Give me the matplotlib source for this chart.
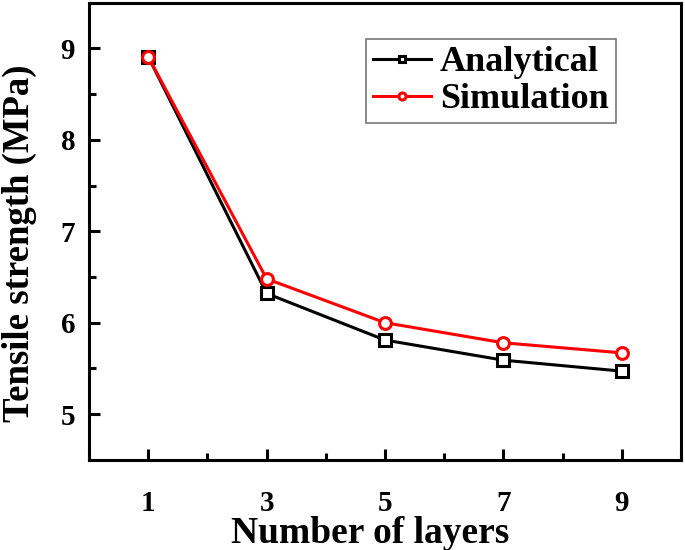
import matplotlib
matplotlib.use("Agg")
import matplotlib.pyplot as plt
from matplotlib.ticker import MultipleLocator

# data
layers = [1, 3, 5, 7, 9]
analytical = [8.91, 6.32, 5.81, 5.59, 5.47]
simulation = [8.91, 6.48, 6.00, 5.78, 5.67]

plt.rcParams["font.family"] = ["Liberation Serif", "DejaVu Serif"]
plt.rcParams["font.weight"] = "bold"

fig = plt.figure(figsize=(6.85, 5.5), dpi=100)
ax = fig.add_axes([0.130, 0.164, 0.864, 0.831])

ax.plot(layers, analytical, color="black", lw=2.2, marker="s", ms=8,
        mfc="white", mec="black", mew=2.2, label="Analytical")
ax.plot(layers, simulation, color="red", lw=2.2, marker="o", ms=8.5,
        mfc="white", mec="red", mew=2.2, label="Simulation")

ax.set_xlim(0, 10)
ax.set_ylim(4.5, 9.5)
ax.xaxis.set_minor_locator(MultipleLocator(1))
ax.set_xticks(layers)
ax.yaxis.set_minor_locator(MultipleLocator(0.5))
ax.set_yticks([5, 6, 7, 8, 9])

ax.tick_params(which="both", direction="in", top=False, right=False, width=2.2)
ax.tick_params(which="major", length=8, labelsize=21)
ax.tick_params(which="minor", length=5)
ax.tick_params(axis="x", which="major", pad=22)
ax.tick_params(axis="y", which="major", pad=10)
for s in ax.spines.values():
    s.set_linewidth(2.2)

ax.set_xlabel("Number of layers", fontsize=27, fontweight="bold")
ax.set_ylabel("Tensile strength (MPa)", fontsize=26.5, fontweight="bold")
ax.xaxis.set_label_coords(0.475, -0.124)
ax.yaxis.set_label_coords(-0.088, 0.473)

leg = ax.legend(loc="upper right", bbox_to_anchor=(0.89, 0.921), borderaxespad=0,
                fontsize=26, handlelength=1.6, handletextpad=0.25, labelspacing=0.1,
                markerscale=0.6, fancybox=False, edgecolor="#555555",
                borderpad=0.2)
leg.get_frame().set_linewidth(1.2)

fig.savefig("out.png", dpi=100)
